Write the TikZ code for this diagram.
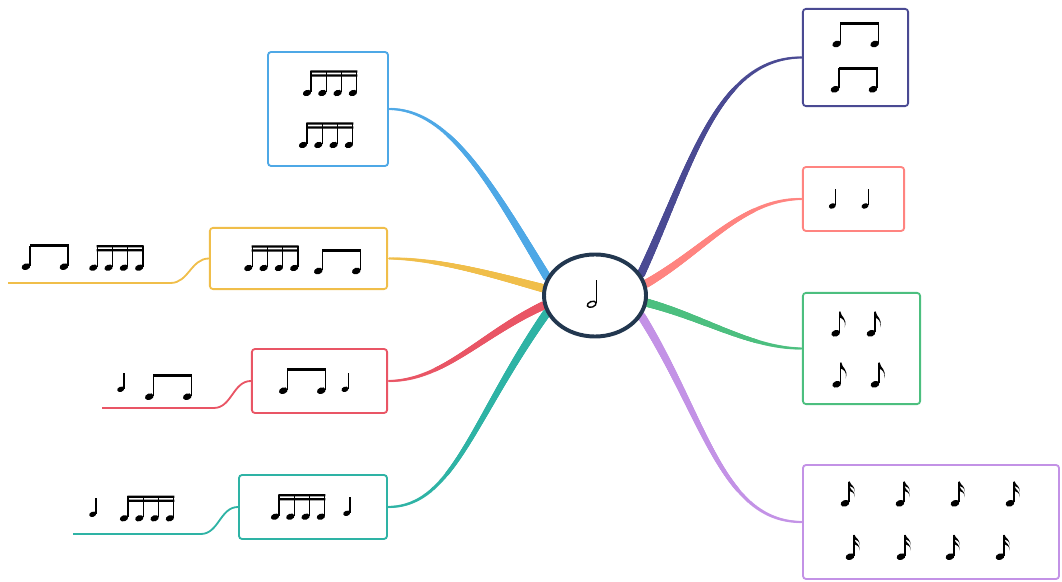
\documentclass[tikz,border=0pt]{standalone}
\usetikzlibrary{shapes,backgrounds,decorations.markings}

\definecolor{cblue}{HTML}{4EA8E6}
\definecolor{cyellow}{HTML}{F0BE4A}
\definecolor{cred}{HTML}{E95565}
\definecolor{cteal}{HTML}{2EB3A5}
\definecolor{cnavy}{HTML}{4A4A93}
\definecolor{csalmon}{HTML}{FF8480}
\definecolor{cgreen}{HTML}{4CBF7F}
\definecolor{cpurple}{HTML}{C392E6}
\definecolor{ccenter}{HTML}{22374F}

\begin{document}
\begin{tikzpicture}[x=0.025cm,y=0.025cm]
  %% MIND MAP
  \useasboundingbox (0,0) rectangle (1062,582);

  \tikzset{
    topic/.style={draw=#1,line width=1.3pt,rounded corners=2.2pt,fill=white,inner sep=0pt},
    sub/.style={draw=#1,line width=1.3pt},
    branch/.style={decoration={markings,
        mark=between positions 0 and 1 step 0.5pt with {
          \pgfmathsetmacro{\brw}{3.0-2.2*\pgfkeysvalueof{/pgf/decoration/mark info/distance from start}/\pgfdecoratedpathlength}
          \fill[#1] (0,0) circle (\brw pt);}},
      decorate},
    nhead/.style={shift={(#1,0)},rotate=20},
    notestem/.style={line width=0.95pt},
    % notes, origin at the first head
    qnote/.pic={\fill[nhead=0] (0,0) ellipse (3.6 and 2.6);
      \draw[notestem] (3.3,0.5) -- (3.3,16.5);},
    hnote/.pic={\draw[line width=1pt,nhead=0] (0,0) ellipse (4.6 and 2.8);
      \draw[notestem] (4.5,0.8) -- (4.5,24);},
    enote/.pic={\fill[nhead=0] (0,0) ellipse (4.5 and 3.2);
      \draw[notestem] (4.1,0.8) -- (4.1,21.5);
      \fill (3.7,21.8) -- (4.6,21.8) .. controls (5.3,16) and (12,15) .. (9,6)
        .. controls (10.5,12) and (7,14.5) .. (4.6,15.5) -- (3.7,15.5) -- cycle;},
    snote/.pic={\fill[nhead=0] (0,0) ellipse (4.5 and 3.2);
      \draw[notestem] (4.1,0.8) -- (4.1,21.5);
      \foreach \d in {0,5} {
        \fill (3.7,21.8-\d) -- (4.6,21.8-\d) .. controls (5.3,18-\d) and (11,17.5-\d) .. (9,11-\d)
          .. controls (10.3,15.5-\d) and (6.8,16.5-\d) .. (4.6,17.3-\d) -- cycle;}},
    pairnote/.pic={\foreach \x in {0,38} {
        \fill[nhead=\x] (0,0) ellipse (4.5 and 3.2);
        \draw[notestem] (\x+4,0.8) -- (\x+4,21);}
      \fill (3.5,22.2) rectangle (42.5,19.2);},
    fournote/.pic={\foreach \x in {0,15.3,30.6,45.9} {
        \fill[nhead=\x] (0,0) ellipse (4.3 and 3);
        \draw[notestem] (\x+3.9,0.8) -- (\x+3.9,22);}
      \fill (3.4,22.6) rectangle (50.3,20.4) (3.4,18.6) rectangle (50.3,16.4);}
  }

  % centre
  \node[ellipse,draw=ccenter,line width=2.8pt,fill=white,inner sep=0pt,
    minimum width=2.55cm,minimum height=2.05cm] (C) at (595,286.5) {};

  % left side
  \node[topic=cblue,minimum width=3cm,minimum height=2.85cm] (B1) at (328,473) {};
  \node[topic=cyellow,minimum width=4.43cm,minimum height=1.53cm] (B2) at (298.5,323.5) {};
  \node[topic=cred,minimum width=3.38cm,minimum height=1.6cm] (B3) at (319.5,201) {};
  \node[topic=cteal,minimum width=3.7cm,minimum height=1.6cm] (B4) at (313,75) {};

  \node[inner sep=0pt,anchor=south west,minimum width=4.05cm,minimum height=1cm] (Y2) at (8,299) {};
  \node[inner sep=0pt,anchor=south west,minimum width=2.78cm,minimum height=1cm] (R2) at (102,174) {};
  \node[inner sep=0pt,anchor=south west,minimum width=3.18cm,minimum height=1cm] (T2) at (73,48) {};

  % right side
  \node[topic=cnavy,minimum width=2.63cm,minimum height=2.43cm] (B5) at (855.5,524.5) {};
  \node[topic=csalmon,minimum width=2.53cm,minimum height=1.6cm] (B6) at (853.5,383) {};
  \node[topic=cgreen,minimum width=2.93cm,minimum height=2.78cm] (B7) at (861.5,233.5) {};
  \node[topic=cpurple,minimum width=6.4cm,minimum height=2.85cm] (B8) at (931,60) {};

  \begin{scope}[on background layer]
    \path[branch=cblue] (C.159) .. controls +(121:110) and +(60,0) .. (B1.east);
    \path[branch=cyellow] (C.172) .. controls +(165:50) and +(50,0) .. (B2.east);
    \path[branch=cred] (C.191) .. controls +(205:70) and +(55,0) .. (B3.east);
    \path[branch=cteal] (C.200) .. controls +(235:130) and +(65,0) .. (B4.east);
    \path[branch=cnavy] (C.25) .. controls +(65:120) and +(-85,0) .. (B5.west);
    \path[branch=csalmon] (C.13) .. controls +(30:70) and +(-60,0) .. (B6.west);
    \path[branch=cgreen] (C.352) .. controls +(-15:60) and +(-50,0) .. (B7.west);
    \path[branch=cpurple] (C.336) .. controls +(-58:120) and +(-80,0) .. (B8.west);
  \end{scope}

  % sub topics
  \draw[sub=cyellow] (B2.west) to[out=180,in=0] (Y2.south east) -- (Y2.south west);
  \draw[sub=cred] (B3.west) to[out=180,in=0] (R2.south east) -- (R2.south west);
  \draw[sub=cteal] (B4.west) to[out=180,in=0] (T2.south east) -- (T2.south west);

  % notes
  \pic at (591.7,277.7) {hnote};
  \pic at (307,489) {fournote};
  \pic at (303,437) {fournote};
  \pic at (248.3,314) {fournote};
  \pic at (318.3,311) {pairnote};
  \pic at (26,315.3) {pairnote};
  \pic at (93.3,314.3) {fournote};
  \pic at (283.3,191.3) {pairnote};
  \pic at (345,192.7) {qnote};
  \pic at (120.7,192.7) {qnote};
  \pic at (149.3,185.3) {pairnote};
  \pic at (275,65.3) {fournote};
  \pic at (346.7,68.7) {qnote};
  \pic at (92.7,67.7) {qnote};
  \pic at (124,63.7) {fournote};
  \pic at (836.7,538) {pairnote};
  \pic at (835,492.7) {pairnote};
  \foreach \x in {832.3,865} \pic at (\x,376) {qnote};
  \foreach \x/\y in {835.7/248.7,871/248.7,836.7/197.7,875/197.7} \pic at (\x,\y) {enote};
  \foreach \x in {845,900,955,1010} \pic at (\x,78.7) {snote};
  \foreach \x in {850,901,950,1000} \pic at (\x,25.3) {snote};
\end{tikzpicture}
\end{document}
